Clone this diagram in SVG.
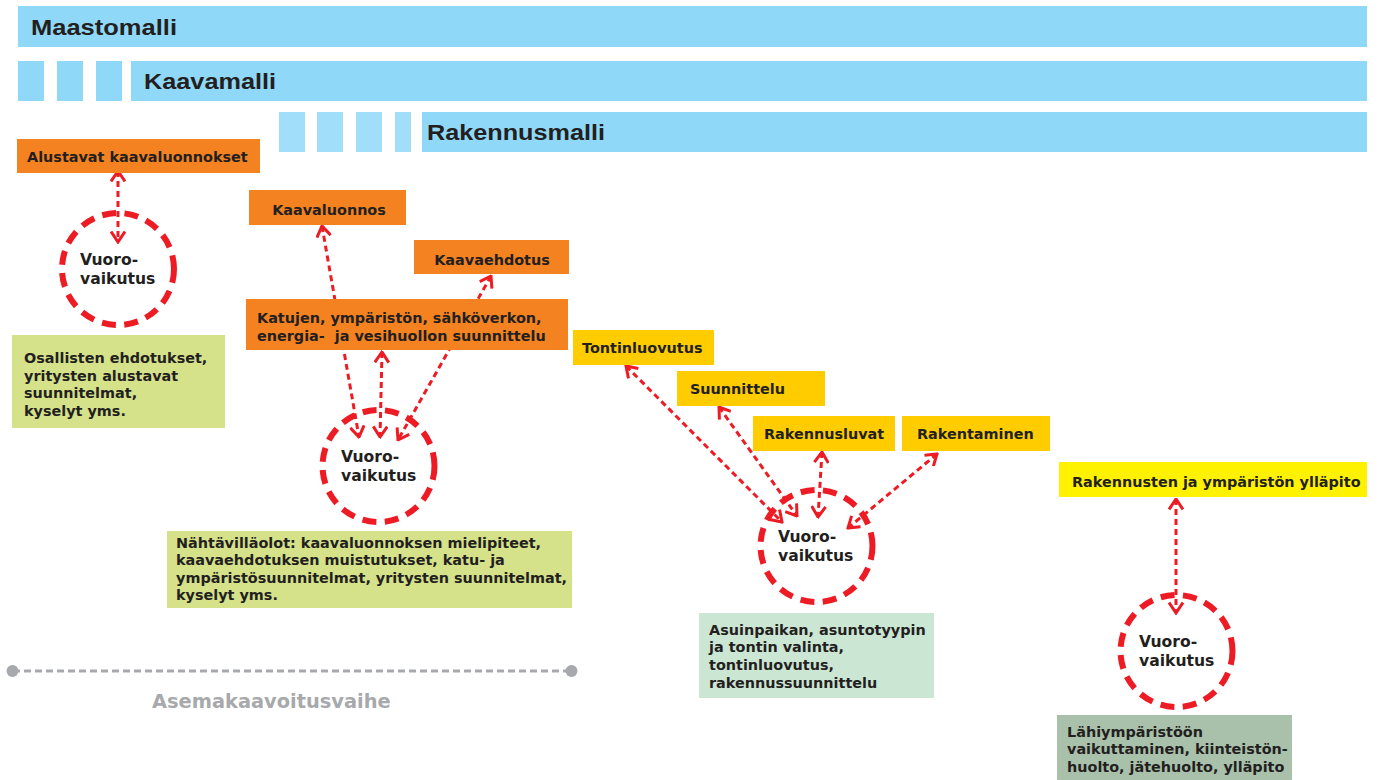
<svg xmlns="http://www.w3.org/2000/svg" width="1379" height="780" viewBox="0 0 1379 780">
<style>
.bar{fill:#8FD8F8}
.hdr{font-family:"Liberation Sans",Arial,sans-serif;font-weight:bold;font-size:22px;fill:#231F20}
.lbl{font-family:"DejaVu Sans",Verdana,sans-serif;font-weight:bold;font-size:14.4px;fill:#231F20;white-space:pre}
.mid{text-anchor:middle}
.vv{font-family:"DejaVu Sans",Verdana,sans-serif;font-weight:bold;font-size:15.6px;fill:#231F20}
.orange{fill:#F58220}
.gold{fill:#FFCC00}
.yel{fill:#FFF200}
.circ{fill:#FFFFFF;stroke:#ED1C24;stroke-width:6;stroke-dasharray:14 8.5}
.con{fill:none;stroke:#ED1C24;stroke-width:3;stroke-dasharray:6 4}
</style>
<defs>
<marker id="ah" viewBox="0 0 13 16" refX="11.5" refY="8" markerWidth="13" markerHeight="16" markerUnits="userSpaceOnUse" orient="auto-start-reverse">
<path d="M1,1 L11.5,8 L1,15" fill="none" stroke="#ED1C24" stroke-width="3" stroke-dasharray="none"/>
</marker>
</defs>
<rect width="1379" height="780" fill="#FFFFFF"/>

<g id="maastomalli">
<rect class="bar" x="18" y="6" width="1349" height="41"/>
<text class="hdr" x="31" y="35" textLength="146" lengthAdjust="spacingAndGlyphs">Maastomalli</text>
</g>
<g id="kaavamalli">
<rect class="bar" x="18" y="61" width="26" height="40"/>
<rect class="bar" x="57" y="61" width="26" height="40"/>
<rect class="bar" x="96" y="61" width="26" height="40"/>
<rect class="bar" x="131" y="61" width="1236" height="40"/>
<text class="hdr" x="144" y="88.5" textLength="132" lengthAdjust="spacingAndGlyphs">Kaavamalli</text>
</g>
<g id="rakennusmalli">
<rect class="bar" x="279" y="112" width="26" height="40" opacity="0.85"/>
<rect class="bar" x="317" y="112" width="26" height="40" opacity="0.85"/>
<rect class="bar" x="356" y="112" width="26" height="40" opacity="0.85"/>
<rect class="bar" x="395" y="112" width="16" height="40" opacity="0.85"/>
<rect class="bar" x="422" y="112" width="945" height="40"/>
<text class="hdr" x="427" y="140" textLength="178" lengthAdjust="spacingAndGlyphs">Rakennusmalli</text>
</g>

<g id="vuoro1">
<circle class="circ" cx="118" cy="269" r="56"/>
<text class="vv" x="80" y="265">Vuoro-</text>
<text class="vv" x="80" y="284">vaikutus</text>
</g>
<g id="vuoro2">
<circle class="circ" cx="378.5" cy="466" r="56"/>
<text class="vv" x="341" y="462">Vuoro-</text>
<text class="vv" x="341" y="481">vaikutus</text>
</g>
<g id="vuoro3">
<circle class="circ" cx="816.5" cy="546" r="56"/>
<text class="vv" x="778" y="542">Vuoro-</text>
<text class="vv" x="778" y="561">vaikutus</text>
</g>
<g id="vuoro4">
<circle class="circ" cx="1176.5" cy="651" r="56"/>
<text class="vv" x="1139" y="647">Vuoro-</text>
<text class="vv" x="1139" y="666">vaikutus</text>
</g>

<g id="connectors">
<line class="con" x1="118" y1="171" x2="118" y2="242" marker-start="url(#ah)" marker-end="url(#ah)"/>
<line class="con" x1="322" y1="226" x2="359" y2="437" marker-start="url(#ah)" marker-end="url(#ah)"/>
<line class="con" x1="382" y1="352" x2="380" y2="437" marker-start="url(#ah)" marker-end="url(#ah)"/>
<line class="con" x1="491" y1="276" x2="398" y2="440" marker-start="url(#ah)" marker-end="url(#ah)"/>
<line class="con" x1="626" y1="366" x2="782" y2="522" marker-start="url(#ah)" marker-end="url(#ah)"/>
<line class="con" x1="719" y1="407" x2="797" y2="516" marker-start="url(#ah)" marker-end="url(#ah)"/>
<line class="con" x1="822" y1="452" x2="818" y2="517" marker-start="url(#ah)" marker-end="url(#ah)"/>
<line class="con" x1="937" y1="454" x2="848" y2="528" marker-start="url(#ah)" marker-end="url(#ah)"/>
<line class="con" x1="1176" y1="499" x2="1176" y2="613" marker-start="url(#ah)" marker-end="url(#ah)"/>
</g>

<g id="alustavat">
<rect class="orange" x="17" y="139" width="243" height="34"/>
<text class="lbl" x="27" y="162">Alustavat kaavaluonnokset</text>
</g>
<g id="kaavaluonnos">
<rect class="orange" x="249" y="190" width="157" height="35"/>
<text class="lbl mid" x="329" y="215">Kaavaluonnos</text>
</g>
<g id="kaavaehdotus">
<rect class="orange" x="414" y="240" width="155" height="34"/>
<text class="lbl mid" x="492" y="265">Kaavaehdotus</text>
</g>
<g id="katujen">
<rect class="orange" x="246" y="299" width="322" height="51"/>
<text class="lbl" x="257" y="323">Katujen, ympäristön, sähköverkon,</text>
<text class="lbl" x="257" y="341">energia-  ja vesihuollon suunnittelu</text>
</g>
<g id="osallisten">
<rect x="12" y="335" width="213" height="93" fill="#D5E28A"/>
<text class="lbl" x="24" y="363">Osallisten ehdotukset,</text>
<text class="lbl" x="24" y="381">yritysten alustavat</text>
<text class="lbl" x="24" y="398">suunnitelmat,</text>
<text class="lbl" x="24" y="416">kyselyt yms.</text>
</g>
<g id="nahtavillaolot">
<rect x="167" y="531" width="405" height="77" fill="#D5E28A"/>
<text class="lbl" x="176" y="548">Nähtävilläolot: kaavaluonnoksen mielipiteet,</text>
<text class="lbl" x="176" y="565">kaavaehdotuksen muistutukset, katu- ja</text>
<text class="lbl" x="176" y="583">ympäristösuunnitelmat, yritysten suunnitelmat,</text>
<text class="lbl" x="176" y="600">kyselyt yms.</text>
</g>
<g id="tontinluovutus">
<rect class="gold" x="573" y="330" width="141" height="35"/>
<text class="lbl" x="582" y="353">Tontinluovutus</text>
</g>
<g id="suunnittelu">
<rect class="gold" x="677" y="371" width="148" height="35"/>
<text class="lbl" x="690" y="394">Suunnittelu</text>
</g>
<g id="rakennusluvat">
<rect class="gold" x="753" y="416" width="142" height="35"/>
<text class="lbl" x="764" y="439">Rakennusluvat</text>
</g>
<g id="rakentaminen">
<rect class="gold" x="902" y="416" width="148" height="35"/>
<text class="lbl" x="917" y="439">Rakentaminen</text>
</g>
<g id="asuinpaikan">
<rect x="699" y="613" width="235" height="85" fill="#CCE6D4"/>
<text class="lbl" x="709" y="635">Asuinpaikan, asuntotyypin</text>
<text class="lbl" x="709" y="652">ja tontin valinta,</text>
<text class="lbl" x="709" y="670">tontinluovutus,</text>
<text class="lbl" x="709" y="688">rakennussuunnittelu</text>
</g>
<g id="yllapito">
<rect class="yel" x="1059" y="462" width="308" height="35"/>
<text class="lbl" x="1072" y="487">Rakennusten ja ympäristön ylläpito</text>
</g>
<g id="lahiymparisto">
<rect x="1057" y="715" width="235" height="65" fill="#A9C1AB"/>
<text class="lbl" x="1067" y="737">Lähiympäristöön</text>
<text class="lbl" x="1067" y="754">vaikuttaminen, kiinteistön-</text>
<text class="lbl" x="1067" y="772">huolto, jätehuolto, ylläpito</text>
</g>

<g id="asemakaavoitusvaihe">
<line x1="13" y1="671" x2="571" y2="671" stroke="#A7A9AC" stroke-width="3" stroke-dasharray="7 4"/>
<circle cx="12.5" cy="671" r="6" fill="#A7A9AC"/>
<circle cx="571.5" cy="671" r="6" fill="#A7A9AC"/>
<text x="152" y="708" font-family="DejaVu Sans, Verdana, sans-serif" font-weight="bold" font-size="19.4" fill="#A7A9AC">Asemakaavoitusvaihe</text>
</g>
</svg>
